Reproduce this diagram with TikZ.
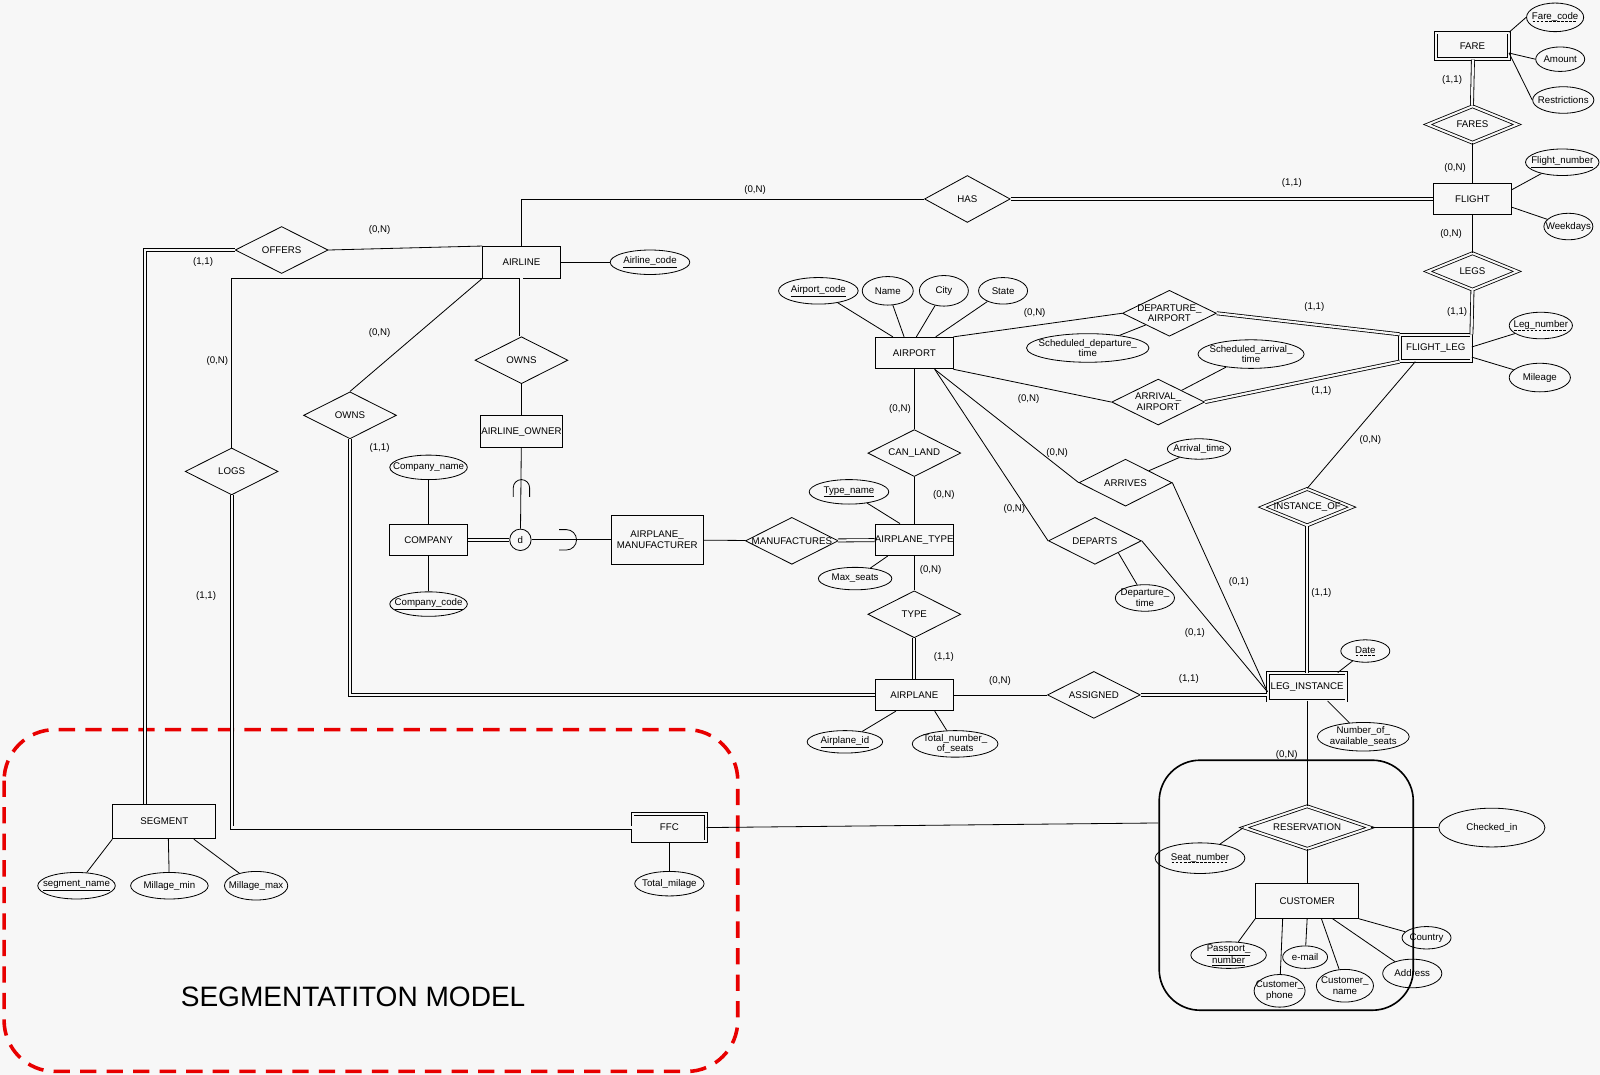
\documentclass[tikz,border=0pt]{standalone}
\usepackage{fontspec}
\setmainfont{Liberation Sans}
\usepackage{tikz}
\usetikzlibrary{shapes}
\definecolor{bgcol}{RGB}{247,247,247}
\definecolor{redline}{RGB}{232,0,0}
\newcommand{\dashul}[1]{\setbox0\hbox{#1}\leavevmode\rlap{\raisebox{-2.2pt}{\hbox to \wd0{\leaders\hbox to 4pt{\hss\rule{2.6pt}{0.6pt}\hss}\hfill}}}\box0}
\tikzset{ent/.style={rectangle,draw,minimum width=76,minimum height=31,inner sep=0pt,align=center}}
\tikzset{went/.style={ent,double=bgcol,double distance=2pt}}
\tikzset{rel/.style={diamond,draw,minimum width=91,minimum height=46,inner sep=0pt}}
\tikzset{wrel/.style={rel,double=bgcol,double distance=2pt,minimum width=88,minimum height=36}}
\tikzset{att/.style 2 args={ellipse,draw,minimum width=#1,minimum height=#2,inner sep=0pt}}
\tikzset{card/.style={inner sep=1pt}}
\tikzset{dbl/.style={double=bgcol,double distance=2.2pt}}

\begin{document}
\begin{tikzpicture}[x=1pt,y=-1pt,font=\fontsize{9.5}{10.5}\selectfont,line width=0.8pt]
    \useasboundingbox (0,0) rectangle (1568,1053);
    \fill[bgcol] (0,0) rectangle (1568,1053);

    % entities
    \node[went,minimum width=71,minimum height=26] (fare) at (1443,45) {FARE};
    \node[ent] (flight) at (1443,195) {FLIGHT};
    \node[went,minimum width=70,minimum height=26] (fleg) at (1407,341) {FLIGHT\_LEG};
    \node[ent] (airline) at (511,257) {AIRLINE};
    \node[ent,minimum width=80] (owner) at (511,423) {AIRLINE\_OWNER};
    \node[ent] (airport) at (896,346) {AIRPORT};
    \node[ent,minimum width=77] (company) at (420,529) {COMPANY};
    \node[ent,minimum width=90,minimum height=48] (manuf) at (644,529) {AIRPLANE\_\\MANUFACTURER};
    \node[ent,minimum width=77] (ptype) at (896,529) {AIRPLANE\_TYPE};
    \node[ent] (airplane) at (896,681) {AIRPLANE};
    \node[went,minimum width=77,minimum height=27] (legi) at (1281,673) {LEG\_INSTANCE};
    \node[ent,minimum width=101,minimum height=34] (segment) at (161,805) {SEGMENT};
    \node[went,minimum width=72,minimum height=27] (ffc) at (656,811) {FFC};
    \node[ent,minimum width=101,minimum height=34] (customer) at (1281,883) {CUSTOMER};

    % relationships
    \node[wrel,label=center:FARES] (fares) at (1443,122) {};
    \node[rel,minimum width=84,label=center:HAS] (has) at (948,195) {};
    \node[wrel,label=center:LEGS] (legs) at (1443,266) {};
    \node[rel,label=center:OFFERS] (offers) at (276,245) {};
    \node[rel,label=center:OWNS] (ownsa) at (511,353) {};
    \node[rel,label=center:OWNS] (ownsb) at (343,407) {};
    \node[rel,minimum width=92,minimum height=45,label={[align=center]center:{DEPARTURE\_\\AIRPORT}}] (depa) at (1146,307) {};
    \node[rel,minimum height=45,label={[align=center]center:{ARRIVAL\_\\AIRPORT}}] (arra) at (1135,394) {};
    \node[rel,label=center:CAN\_LAND] (canland) at (896,444) {};
    \node[rel,label=center:ARRIVES] (arrives) at (1103,473) {};
    \node[rel,label=center:DEPARTS] (departs) at (1073,530) {};
    \node[rel,label=center:MANUFACTURES] (manufs) at (776,530) {};
    \node[wrel,label=center:INSTANCE\_OF] (instof) at (1281,497) {};
    \node[rel,label=center:TYPE] (type) at (896,602) {};
    \node[rel,label=center:ASSIGNED] (assigned) at (1072,681) {};
    \node[rel,label=center:LOGS] (logs) at (227,462) {};
    \node[wrel,minimum width=124,minimum height=42,label=center:RESERVATION] (reserv) at (1281,811) {};
    \node[circle,draw,minimum size=21,inner sep=0pt] (dcirc) at (510,529) {d};

    % attributes
    \node[att={56}{28},label={center:{\dashul{Fare\_code}}}] (farecode) at (1524,17) {};
    \node[att={48}{24},label=center:Amount] (amount) at (1529,58) {};
    \node[att={60}{26},label=center:Restrictions] (restr) at (1532,98) {};
    \node[att={72}{26},label={center:{\underline{Flight\_number}}}] (fnum) at (1531,159) {};
    \node[att={48}{26},label=center:Weekdays] (weekdays) at (1537,222) {};
    \node[att={62}{26},label={center:{\dashul{Leg\_number}}}] (legnum) at (1510,319) {};
    \node[att={60}{28},label=center:Mileage] (mileage) at (1509,370) {};
    \node[att={78}{26},label={center:{\underline{Airport\_code}}}] (apcode) at (802,285) {};
    \node[att={50}{28},label=center:Name] (name) at (870,285) {};
    \node[att={48}{30},label=center:City] (city) at (925,285) {};
    \node[att={48}{26},label=center:State] (state) at (983,285) {};
    \node[att={120}{28},label={[align=center]center:{Scheduled\_departure\_\\time}}] (sdep) at (1066,341) {};
    \node[att={104}{28},label={[align=center]center:{Scheduled\_arrival\_\\time}}] (sarr) at (1226,347) {};
    \node[att={62}{20},label=center:Arrival\_time] (arrt) at (1175,440) {};
    \node[att={58}{26},label={[align=center]center:{Departure\_\\time}}] (dept) at (1122,586) {};
    \node[att={78}{24},label={center:{\underline{Type\_name}}}] (tname) at (832,482) {};
    \node[att={72}{22},label=center:Max\_seats] (maxs) at (838,567) {};
    \node[att={74}{22},label={center:{\underline{Airplane\_id}}}] (aid) at (828,727) {};
    \node[att={84}{26},label={[align=center]center:{Total\_number\_\\of\_seats}}] (tseats) at (936,729) {};
    \node[att={76}{24},label=center:Company\_name] (cname) at (420,458) {};
    \node[att={76}{24},label={center:{\underline{Company\_code}}}] (ccode) at (420,592) {};
    \node[att={78}{24},label={center:{\underline{Airline\_code}}}] (alcode) at (637,257) {};
    \node[att={48}{22},label={center:{\dashul{Date}}}] (date) at (1338,638) {};
    \node[att={90}{28},label={[align=center]center:{Number\_of\_\\available\_seats}}] (navail) at (1336,722) {};
    \node[att={104}{38},label=center:Checked\_in] (checked) at (1462,811) {};
    \node[att={88}{30},label={center:{\dashul{Seat\_number}}}] (seatn) at (1176,841) {};
    \node[att={74}{26},label={[align=center]center:{\underline{Passport\_}\\\underline{number}}}] (passp) at (1204,936) {};
    \node[att={44}{22},label=center:e-mail] (email) at (1279,938) {};
    \node[att={50}{32},label={[align=center]center:{Customer\_\\phone}}] (cphone) at (1254,971) {};
    \node[att={56}{32},label={[align=center]center:{Customer\_\\name}}] (cnamec) at (1318,966) {};
    \node[att={58}{28},label=center:Address] (address) at (1384,954) {};
    \node[att={48}{22},label=center:Country] (country) at (1398,919) {};
    \node[att={76}{26},label={center:{\underline{segment\_name}}}] (segname) at (75,868) {};
    \node[att={76}{26},label=center:Millage\_min] (mmin) at (166,868) {};
    \node[att={62}{28},label=center:Millage\_max] (mmax) at (251,868) {};
    \node[att={68}{24},label=center:Total\_milage] (tmil) at (656,866) {};

    % reservation frame and segmentation model
    \node[draw,rounded corners=40pt,minimum width=249,minimum height=245,line width=1.6pt] (resbox) at (1260.5,867.5) {};
    \draw[redline,line width=3.5pt,dash pattern=on 16pt off 10pt,rounded corners=50pt] (4,715) rectangle (723,1050);
    \node[font=\fontsize{27.5}{30}\selectfont] (title) at (346,977) {SEGMENTATITON MODEL};

    % cardinalities
    \node[card] (c1) at (1423,78) {(1,1)};
    \node[card] (c2) at (1426,165) {(0,N)};
    \node[card] (c3) at (1422,229) {(0,N)};
    \node[card] (c4) at (1428,306) {(1,1)};
    \node[card] (c5) at (1266,179) {(1,1)};
    \node[card] (c6) at (740,186) {(0,N)};
    \node[card] (c7) at (372,225) {(0,N)};
    \node[card] (c8) at (199,257) {(1,1)};
    \node[card] (c9) at (213,354) {(0,N)};
    \node[card] (c10) at (372,326) {(0,N)};
    \node[card] (c11) at (372,439) {(1,1)};
    \node[card] (c12) at (202,584) {(1,1)};
    \node[card] (c13) at (1014,307) {(0,N)};
    \node[card] (c14) at (1288,301) {(1,1)};
    \node[card] (c15) at (1008,391) {(0,N)};
    \node[card] (c16) at (1295,383) {(1,1)};
    \node[card] (c17) at (1343,431) {(0,N)};
    \node[card] (c18) at (1295,581) {(1,1)};
    \node[card] (c19) at (882,401) {(0,N)};
    \node[card] (c20) at (925,485) {(0,N)};
    \node[card] (c21) at (912,559) {(0,N)};
    \node[card] (c22) at (925,644) {(1,1)};
    \node[card] (c23) at (1036,444) {(0,N)};
    \node[card] (c24) at (994,499) {(0,N)};
    \node[card] (c25) at (1214,570) {(0,1)};
    \node[card] (c26) at (1171,620) {(0,1)};
    \node[card] (c27) at (980,667) {(0,N)};
    \node[card] (c28) at (1165,665) {(1,1)};
    \node[card] (c29) at (1261,740) {(0,N)};

    % connectors
    \draw [] (fare.north east) -- (farecode.west);
    \draw [] ([yshift=-7]fare.east) -- (amount.west);
    \draw [] ([yshift=-7]fare.east) -- (restr.west);
    \draw [dbl] ([xshift=0.5]fare.south) -- ([xshift=-0.5]fares.north);
    \draw [] (fares) -- (flight);
    \draw [] ([yshift=9]flight.east) -- (fnum);
    \draw [] ([yshift=-8]flight.east) -- (weekdays);
    \draw [] (flight) -- (legs);
    \draw [dbl] (legs.south) -- ([xshift=35]fleg.north);
    \draw [] ([yshift=1]fleg.east) -- (legnum);
    \draw [] ([yshift=-9]fleg.east) -- (mileage);
    \draw [dbl] (has) -- (flight);
    \draw [] (airline.north) |- (has.west);
    \draw [] ([xshift=-20]fleg.south) -- (instof.north);
    \draw [dbl] (instof) -- (legi);
    \draw [dbl] (depa.east) -- (fleg.north west);
    \draw [dbl] (arra.east) -- (fleg.south west);
    \draw [] (airport.north east) -- (depa.west);
    \draw [] (airport.south east) -- (arra.west);
    \draw [] (sdep) -- (depa.south west);
    \draw [] (sarr) -- (arra.north east);
    \draw [] (apcode) -- ([xshift=-21]airport.north);
    \draw [] (name) -- ([xshift=-10]airport.north);
    \draw [] (city) -- ([xshift=2]airport.north);
    \draw [] (state) -- ([xshift=21]airport.north);
    \draw [] (airport) -- (canland);
    \draw [] (canland) -- (ptype);
    \draw [] (ptype) -- (type);
    \draw [dbl] (type) -- (airplane);
    \draw [] (tname) -- ([xshift=-14]ptype.north);
    \draw [] (maxs) -- ([xshift=-26]ptype.south);
    \draw [] (aid) -- ([xshift=-18]airplane.south);
    \draw [] (tseats) -- ([xshift=20]airplane.south);
    \draw [] (airplane) -- (assigned);
    \draw [dbl] (assigned.east) -- (assigned.east -| legi.west);
    \draw [] ([xshift=20]airport.south) -- (arrives.west);
    \draw [] (arrives.east) -- ([yshift=-5]legi.west);
    \draw [] (arrt) -- (arrives.north east);
    \draw [] ([xshift=20]airport.south) -- (departs.west);
    \draw [] (departs.east) -- ([yshift=-5]legi.west);
    \draw [] (dept) -- (departs.south east);
    \draw [] ([xshift=30]legi.north) -- (date);
    \draw [] ([xshift=20]legi.south) -- (navail);
    \draw [] (legi) -- (reserv);
    \draw [] (reserv) -- (checked);
    \draw [] (reserv.west) -- (seatn);
    \draw [] (reserv) -- (customer);
    \draw [] (customer.south west) -- (passp);
    \draw [] ([xshift=-24]customer.south) -- (cphone);
    \draw [] (customer.south) -- (email);
    \draw [] ([xshift=14]customer.south) -- (cnamec);
    \draw [] ([xshift=25]customer.south) -- (address);
    \draw [] (customer.south east) -- (country);
    \draw [] (ffc.east) -- ([yshift=61]resbox.west);
    \draw [] (ffc) -- (tmil);
    \draw [dbl] (logs.south) |- (ffc.west);
    \draw [] (airline.south west) -| (logs.north);
    \draw [] (airline.south west) -- (ownsb.north);
    \draw [dbl] (ownsb.south) |- (airplane.west);
    \draw [] (offers.east) -- (airline.north west);
    \draw [dbl] (offers.west) -| ([xshift=-19]segment.north);
    \draw [dbl] (airline) -- (ownsa);
    \draw [] (ownsa) -- (owner);
    \draw [] (owner) -- (dcirc);
    \draw [dbl] (company) -- (dcirc);
    \draw [] (dcirc) -- (manuf);
    \draw [] (manuf) -- (manufs);
    \draw [dbl] (manufs) -- (ptype);
    \draw [] (airline) -- (alcode);
    \draw [] (cname) -- (company);
    \draw [] (company) -- (ccode);
    \draw [] (segment.south west) -- (segname);
    \draw [] ([xshift=4]segment.south) -- (mmin);
    \draw [] ([xshift=29]segment.south) -- (mmax);
    % subset marks
    \draw [] (503,487) -- (503,478) arc[start angle=180,end angle=360,radius=8] -- (519,487);
    \draw [] (548,519) -- (555,519) arc[start angle=270,end angle=450,radius=10] -- (548,539);
\end{tikzpicture}
\end{document}
